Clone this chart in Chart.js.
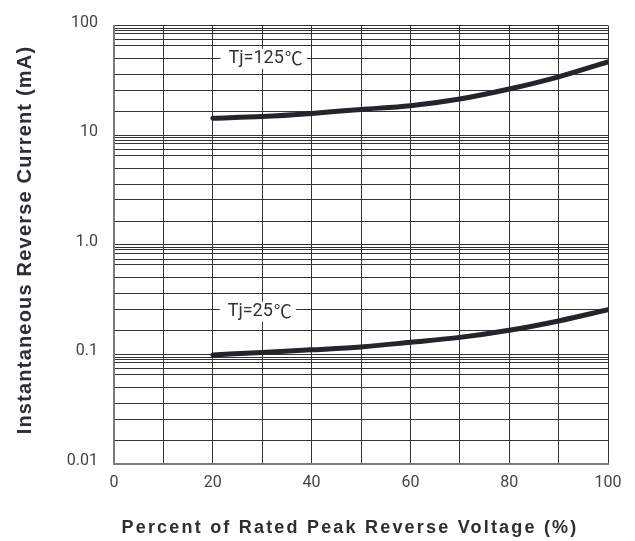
<!DOCTYPE html>
<html>
<head>
<meta charset="utf-8">
<script src="https://cdn.jsdelivr.net/npm/chart.js@4.4.0/dist/chart.umd.min.js"></script>
<style>
  html, body { margin: 0; padding: 0; background: #fff; }
</style>
</head>
<body>
<canvas id="irChart" width="635" height="541"></canvas>
<script>
// values
const voltagePct = [20, 30, 40, 50, 60, 70, 80, 90, 100];
const current125 = [14.3, 14.8, 15.8, 17.2, 18.6, 21.4, 26.4, 34.1, 46.7];
const current25 = [0.099, 0.104, 0.110, 0.117, 0.129, 0.143, 0.166, 0.202, 0.256];

const yTickValues = [0.01, 0.1, 1, 10, 100];
const yTickLabels = ['0.01', '0.1', '1.0', '10', '100'];
const xTickLabels = ['0', '20', '40', '60', '80', '100'];
// minor grid inside each decade, as drawn on the original sheet
const gridSteps = [1.64, 2.57, 3.57, 5, 6.59, 7.42, 8.41, 9.01, 9.45];

const curveLabels = [
  { text: 'Tj=125', unit: '℃', x: 30.7, y: 49.8 },
  { text: 'Tj=25', unit: '℃', x: 29.5, y: 0.245 }
];

const toPoints = (xs, ys) => xs.map((v, i) => ({ x: v, y: ys[i] }));

const overlay = {
  id: 'overlay',
  afterDatasetsDraw(chart) {
    const { ctx, scales: { x, y } } = chart;
    const mainFont = '18px Roboto, sans-serif';
    const unitFont = '18px "Noto Sans CJK SC", sans-serif';
    ctx.save();
    ctx.textBaseline = 'middle';
    ctx.textAlign = 'left';
    curveLabels.forEach(l => {
      const px = x.getPixelForValue(l.x);
      const py = y.getPixelForValue(l.y);
      ctx.font = mainFont;
      const w1 = ctx.measureText(l.text).width;
      ctx.font = unitFont;
      const w2 = ctx.measureText(l.unit).width;
      const w = w1 + w2 + 1;
      ctx.fillStyle = '#fff';
      ctx.fillRect(px - w / 2 - 8, py - 10, w + 12, 20);
      ctx.fillStyle = '#333';
      ctx.font = mainFont;
      ctx.fillText(l.text, px - w / 2, py);
      ctx.font = unitFont;
      ctx.fillText(l.unit, px - w / 2 + w1 + 1, py - 1);
    });
    ctx.restore();
  },
  afterDraw(chart) {
    const { ctx } = chart;
    ctx.save();
    ctx.fillStyle = '#2b2f33';
    ctx.textAlign = 'center';
    ctx.textBaseline = 'alphabetic';

    ctx.font = 'bold 18px "Liberation Sans", Arial, sans-serif';
    ctx.letterSpacing = '2.2px';
    ctx.fillText('Percent of Rated Peak Reverse Voltage (%)', 350, 533);

    ctx.font = 'bold 20px "Liberation Sans", Arial, sans-serif';
    ctx.letterSpacing = '1.2px';
    ctx.translate(31, 240);
    ctx.rotate(-Math.PI / 2);
    ctx.fillText('Instantaneous Reverse Current (mA)', 0, 0);
    ctx.restore();
  }
};

new Chart(document.getElementById('irChart'), {
  type: 'line',
  data: {
    datasets: [
      { label: 'Tj=125℃', data: toPoints(voltagePct, current125) },
      { label: 'Tj=25℃', data: toPoints(voltagePct, current25) }
    ]
  },
  options: {
    responsive: false,
    animation: false,
    layout: { padding: { left: 0, top: 23, right: 27, bottom: 0 } },
    elements: {
      line: {
        borderColor: '#22262a',
        borderWidth: 5,
        borderCapStyle: 'round',
        tension: 0.4,
        cubicInterpolationMode: 'monotone'
      },
      point: { radius: 0 }
    },
    scales: {
      x: {
        type: 'linear',
        min: 0,
        max: 100,
        afterFit(scale) { scale.height = 77; },
        grid: { color: '#333', lineWidth: 1, drawTicks: false },
        border: { color: '#7a7a7a', width: 2 },
        ticks: {
          stepSize: 10,
          padding: 9,
          color: '#444',
          font: { family: 'Roboto', size: 16 },
          callback: v => xTickLabels.includes(String(v)) ? String(v) : ''
        }
      },
      y: {
        type: 'logarithmic',
        min: 0.01,
        max: 100,
        afterFit(scale) { scale.width = 114; },
        afterBuildTicks(scale) {
          const ticks = [];
          yTickValues.forEach((d, i) => {
            ticks.push({ value: d });
            if (i < yTickValues.length - 1) {
              gridSteps.forEach(s => ticks.push({ value: d * s }));
            }
          });
          scale.ticks = ticks;
        },
        grid: { color: '#333', lineWidth: 1, drawTicks: false },
        border: { color: '#7a7a7a', width: 2 },
        ticks: {
          autoSkip: false,
          padding: 16,
          labelOffset: -3,
          color: '#444',
          font: { family: 'Roboto', size: 16 },
          callback: v => {
            const i = yTickValues.findIndex(t => Math.abs(t - v) / t < 1e-6);
            return i >= 0 ? yTickLabels[i] : '';
          }
        }
      }
    },
    plugins: {
      legend: { display: false },
      tooltip: { enabled: false }
    }
  },
  plugins: [overlay]
});
</script>
</body>
</html>
